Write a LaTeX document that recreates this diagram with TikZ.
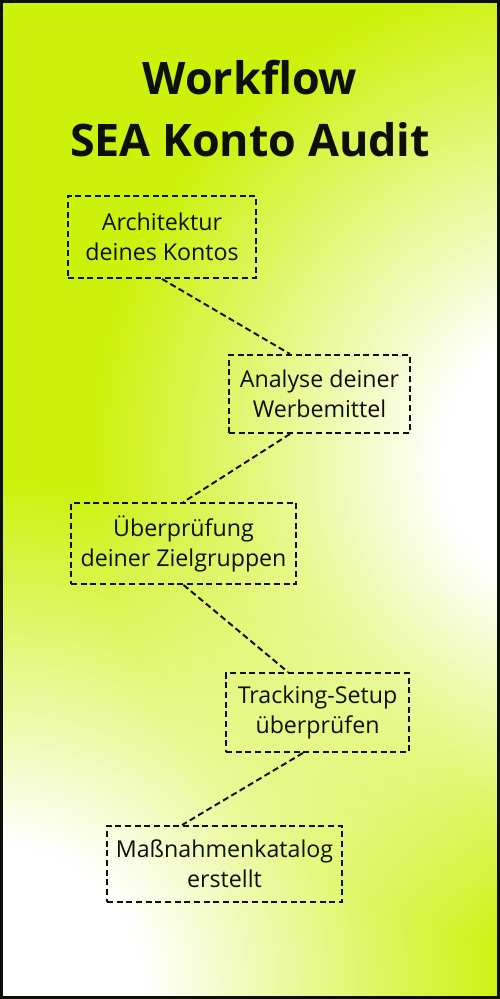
\documentclass[tikz,border=0pt]{standalone}
\usepackage{fontspec}
\setmainfont{Open Sans}
\usepackage{tikz}
\usetikzlibrary{positioning,fadings}
\definecolor{limette}{RGB}{205,241,10}
\definecolor{rahmen}{RGB}{12,16,8}
\pgfdeclareradialshading{glanzschatten}{\pgfpointorigin}
  {color(0bp)=(white); color(7bp)=(white); color(25bp)=(black); color(50bp)=(black)}
\pgfdeclarefading{glanz}{\pgfuseshading{glanzschatten}}

\begin{document}
\begin{tikzpicture}[
  titel/.style={font=\fontsize{25.5}{30}\selectfont\bfseries, text=rahmen,
    inner sep=0pt, anchor=base},
  kasten/.style={draw=rahmen, line width=1.1pt, dash pattern=on 3.5pt off 2pt,
    font=\fontsize{13.2}{17}\selectfont, text=rahmen, align=center, inner sep=2pt},
  linie/.style={draw=rahmen, line width=1.1pt, dash pattern=on 3.5pt off 2pt},
]
  % ---- Hintergrund ----
  \useasboundingbox (0,0) rectangle (10,-19.98);
  \fill[limette] (0,0) rectangle (10,-19.98);
  \begin{scope}
    \clip (0,0) rectangle (10,-19.98);
    \fill[white, path fading=glanz] (11.6,-9.2) circle (9.8);
    \fill[white, path fading=glanz] (0,-19.8) circle (10.2);
  \end{scope}
  \draw[rahmen, line width=1.7pt] (0.03,-0.03) rectangle (9.97,-19.95);
  % ---- Titel ----
  \node[titel] (t1) at (5,-1.9) {Workflow};
  \node[titel] (t2) at (5,-3.14) {SEA Konto Audit};
  % ---- Schritte ----
  \node[kasten, minimum width=3.76cm, minimum height=1.64cm] (arch) at (3.24,-4.74)
    {Architektur\\deines Kontos};
  \node[kasten, minimum width=3.62cm, minimum height=1.56cm] (werb) at (6.39,-7.88)
    {Analyse deiner\\Werbemittel};
  \node[kasten, minimum width=4.5cm, minimum height=1.62cm] (ziel) at (3.67,-10.87)
    {Überprüfung\\deiner Zielgruppen};
  \node[kasten, minimum width=3.66cm, minimum height=1.58cm] (track) at (6.35,-14.25)
    {Tracking-Setup\\überprüfen};
  \node[kasten, minimum width=4.7cm, minimum height=1.52cm] (kat) at (4.49,-17.28)
    {Maßnahmenkatalog\\erstellt};
  % ---- Verbindungen ----
  \draw[linie] (arch.south) -- ([xshift=-0.59cm]werb.north);
  \draw[linie] ([xshift=-0.59cm]werb.south) -- (ziel.north);
  \draw[linie] (ziel.south) -- ([xshift=-0.59cm]track.north);
  \draw[linie] ([xshift=-0.29cm]track.south) -- ([xshift=-0.85cm]kat.north);
\end{tikzpicture}
\end{document}
